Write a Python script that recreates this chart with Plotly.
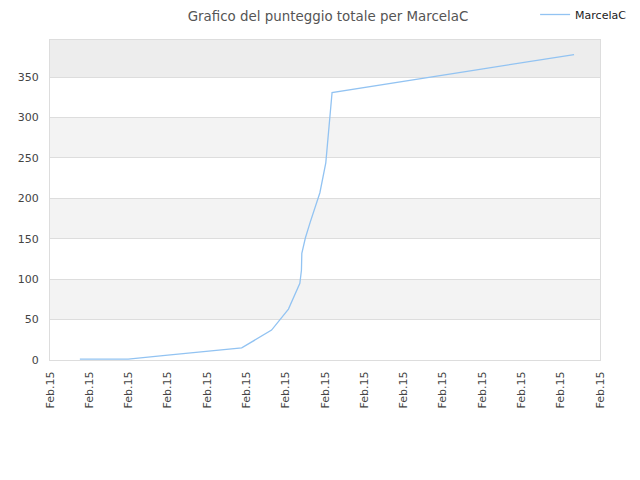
import plotly.graph_objects as go

# x position in tick units (0..14), all ticks labelled "Feb.15"
x_pos = [0.76, 1.99, 3.0, 4.0, 4.88, 5.64, 5.85, 6.07, 6.36, 6.4, 6.41,
         6.5, 6.62, 6.87, 7.02, 7.1, 7.18, 13.34]
punteggio = [1, 1, 6, 11, 15, 37, 50, 63, 95, 111, 132,
             151, 170, 207, 244, 293, 331, 378]
tick_labels = ['Feb.15'] * 15

band_colors = ['#ffffff', '#f3f3f3']

fig = go.Figure()

fig.add_trace(go.Scatter(
    x=x_pos,
    y=punteggio,
    mode='lines',
    line=dict(color='#92c3f2', width=1.3),
    name='MarcelaC',
))

# bande alternate
for i in range(8):
    y0 = i * 50
    y1 = min((i + 1) * 50, 396)
    color = band_colors[i % 2]
    if i == 7:
        color = '#ededed'
    fig.add_shape(type='rect', xref='paper', yref='y', x0=0, x1=1, y0=y0, y1=y1,
                  fillcolor=color, line_width=0, layer='below')

fig.update_layout(
    width=640,
    height=480,
    paper_bgcolor='white',
    plot_bgcolor='white',
    margin=dict(l=42, r=48, t=32, b=128, autoexpand=False),
    font=dict(family='DejaVu Sans', size=11, color='#444444'),
    title=dict(text='Grafico del punteggio totale per MarcelaC', x=0.5, xanchor='center',
               y=0.983, yanchor='middle', font=dict(size=13.4, color='#555555')),
    showlegend=True,
    legend=dict(x=0.882, y=1.125, xanchor='left', yanchor='top', font=dict(size=11, color='#222222'),
                bgcolor='rgba(0,0,0,0)'),
    xaxis=dict(
        range=[0, 14],
        tickmode='array',
        tickvals=list(range(15)),
        ticktext=tick_labels,
        tickangle=-90,
        showgrid=False,
        zeroline=False,
        showline=True,
        linecolor='#dddddd',
        mirror=True,
        ticks='',
        ticklabelstandoff=6,
        automargin=False,
    ),
    yaxis=dict(
        range=[0, 396],
        tickvals=[0, 50, 100, 150, 200, 250, 300, 350],
        showgrid=True,
        gridcolor='#dddddd',
        zeroline=False,
        showline=True,
        linecolor='#dddddd',
        mirror=True,
        ticks='',
        ticklabelstandoff=8,
        automargin=False,
    ),
)

fig.write_html('out.html')
